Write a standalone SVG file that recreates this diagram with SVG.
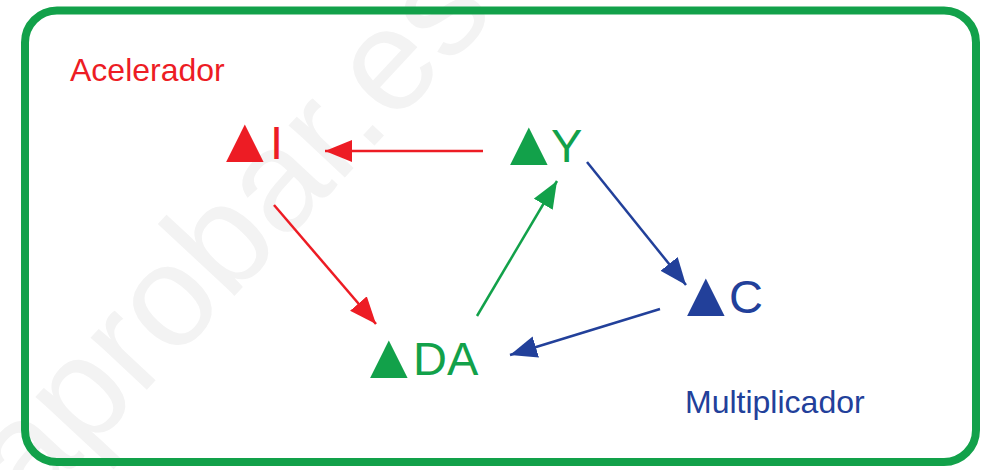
<svg xmlns="http://www.w3.org/2000/svg" width="986" height="470" viewBox="0 0 986 470">
<style>
.lbl{font-family:"Liberation Sans",Arial,sans-serif;font-size:47px}
.tri{font-family:"DejaVu Sans",sans-serif;font-size:49px}
.cap{font-family:"Liberation Sans",Arial,sans-serif;font-size:32px}
.red{fill:#ED1C24}.grn{fill:#12A14A}.blu{fill:#22409A}
</style>
<defs>
<marker id="ar" markerUnits="userSpaceOnUse" markerWidth="30" markerHeight="24" refX="27" refY="11" orient="auto"><path d="M0,0 L27,11 L0,22 Z" fill="#ED1C24"/></marker>
<marker id="ag" markerUnits="userSpaceOnUse" markerWidth="30" markerHeight="24" refX="27" refY="11" orient="auto"><path d="M0,0 L27,11 L0,22 Z" fill="#12A14A"/></marker>
<marker id="ab" markerUnits="userSpaceOnUse" markerWidth="30" markerHeight="24" refX="27" refY="11" orient="auto"><path d="M0,0 L27,11 L0,22 Z" fill="#22409A"/></marker>
</defs>
<rect width="986" height="470" fill="#fff"/>
<text transform="translate(30,515) rotate(-47)" font-family="Liberation Sans,Arial,sans-serif" font-size="145" fill="#F3F3F3">aprobar.es</text>
<rect id="frame" x="25" y="10.5" width="951" height="451.5" rx="32" fill="none" stroke="#12A14A" stroke-width="8"/>
<g id="connectors" stroke-width="2.5" fill="none">
<line x1="483" y1="151" x2="325" y2="151" stroke="#ED1C24" marker-end="url(#ar)"/>
<line x1="274" y1="205" x2="376" y2="324" stroke="#ED1C24" marker-end="url(#ar)"/>
<line x1="477" y1="316" x2="557" y2="181" stroke="#12A14A" marker-end="url(#ag)"/>
<line x1="587" y1="162" x2="686" y2="285" stroke="#22409A" marker-end="url(#ab)"/>
<line x1="660" y1="309" x2="510" y2="355" stroke="#22409A" marker-end="url(#ab)"/>
</g>
<g id="acelerador"><text class="cap red" x="70" y="81">Acelerador</text></g>
<g id="multiplicador"><text class="cap blu" x="685" y="413">Multiplicador</text></g>
<g id="nodeI"><text class="lbl red" x="226" y="159"><tspan class="tri" dy="-3">▲</tspan><tspan x="270" dy="3">I</tspan></text></g>
<g id="nodeY"><text class="lbl grn" x="510" y="162"><tspan class="tri" dy="-3">▲</tspan><tspan x="551" dy="3">Y</tspan></text></g>
<g id="nodeDA"><text class="lbl grn" x="370" y="375"><tspan class="tri" dy="-3">▲</tspan><tspan x="413" dy="3">DA</tspan></text></g>
<g id="nodeC"><text class="lbl blu" x="687" y="313"><tspan class="tri" dy="-3">▲</tspan><tspan x="729" dy="3">C</tspan></text></g>
</svg>
